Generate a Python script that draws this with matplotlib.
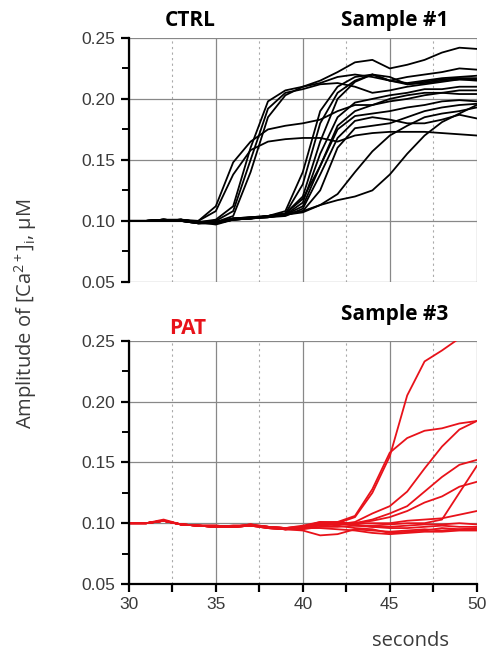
import matplotlib.pyplot as plt
import numpy as np
from matplotlib.ticker import MultipleLocator

plt.rcParams['font.family'] = ['Liberation Sans', 'DejaVu Sans']
plt.rcParams['mathtext.fontset'] = 'custom'
plt.rcParams['mathtext.rm'] = 'Open Sans'
plt.rcParams['mathtext.it'] = 'Open Sans:italic'

# time axis (seconds), one reading per second
t = np.arange(30, 51)

# CTRL, sample #1 - values in uM
ctrl = [
    [0.100, 0.100, 0.101, 0.100, 0.100, 0.112, 0.148, 0.165, 0.175, 0.178, 0.180, 0.183, 0.190, 0.195, 0.195, 0.198, 0.200, 0.203, 0.205, 0.207, 0.207],
    [0.100, 0.100, 0.100, 0.101, 0.100, 0.108, 0.138, 0.158, 0.165, 0.167, 0.168, 0.168, 0.165, 0.170, 0.172, 0.173, 0.173, 0.173, 0.172, 0.171, 0.170],
    [0.100, 0.100, 0.101, 0.100, 0.099, 0.101, 0.112, 0.160, 0.198, 0.207, 0.210, 0.215, 0.222, 0.230, 0.232, 0.225, 0.228, 0.232, 0.238, 0.242, 0.241],
    [0.100, 0.100, 0.100, 0.101, 0.099, 0.100, 0.108, 0.150, 0.192, 0.205, 0.208, 0.212, 0.213, 0.210, 0.205, 0.207, 0.210, 0.212, 0.214, 0.216, 0.215],
    [0.100, 0.100, 0.101, 0.100, 0.098, 0.099, 0.104, 0.140, 0.185, 0.203, 0.210, 0.213, 0.218, 0.220, 0.218, 0.215, 0.218, 0.220, 0.222, 0.225, 0.224],
    [0.100, 0.100, 0.100, 0.101, 0.099, 0.099, 0.102, 0.103, 0.104, 0.108, 0.140, 0.190, 0.210, 0.218, 0.220, 0.215, 0.213, 0.215, 0.217, 0.218, 0.219],
    [0.100, 0.100, 0.101, 0.100, 0.098, 0.098, 0.101, 0.102, 0.103, 0.106, 0.130, 0.180, 0.205, 0.215, 0.220, 0.215, 0.212, 0.214, 0.216, 0.217, 0.217],
    [0.100, 0.100, 0.100, 0.101, 0.099, 0.097, 0.101, 0.102, 0.104, 0.106, 0.120, 0.165, 0.200, 0.214, 0.220, 0.218, 0.212, 0.213, 0.215, 0.216, 0.216],
    [0.100, 0.100, 0.101, 0.100, 0.099, 0.098, 0.102, 0.102, 0.103, 0.105, 0.115, 0.155, 0.185, 0.197, 0.200, 0.203, 0.205, 0.208, 0.208, 0.210, 0.210],
    [0.100, 0.100, 0.100, 0.100, 0.098, 0.099, 0.101, 0.102, 0.104, 0.105, 0.112, 0.145, 0.175, 0.186, 0.188, 0.190, 0.193, 0.195, 0.198, 0.199, 0.198],
    [0.100, 0.100, 0.101, 0.101, 0.099, 0.098, 0.102, 0.103, 0.103, 0.104, 0.110, 0.138, 0.168, 0.182, 0.185, 0.183, 0.180, 0.180, 0.183, 0.187, 0.184],
    [0.100, 0.100, 0.100, 0.100, 0.099, 0.099, 0.101, 0.102, 0.104, 0.106, 0.108, 0.125, 0.160, 0.176, 0.178, 0.180, 0.185, 0.190, 0.193, 0.195, 0.196],
    [0.100, 0.100, 0.101, 0.100, 0.098, 0.098, 0.101, 0.102, 0.103, 0.105, 0.108, 0.113, 0.122, 0.140, 0.157, 0.170, 0.178, 0.185, 0.188, 0.190, 0.193],
    [0.100, 0.100, 0.100, 0.101, 0.099, 0.099, 0.102, 0.102, 0.104, 0.105, 0.107, 0.113, 0.117, 0.120, 0.125, 0.138, 0.155, 0.170, 0.181, 0.188, 0.195],
    [0.100, 0.100, 0.101, 0.100, 0.099, 0.098, 0.101, 0.103, 0.104, 0.106, 0.118, 0.145, 0.178, 0.190, 0.195, 0.200, 0.203, 0.205, 0.205, 0.204, 0.204],
]

# PAT, sample #3
pat = [
    [0.100, 0.100, 0.102, 0.099, 0.098, 0.097, 0.097, 0.098, 0.097, 0.096, 0.096, 0.099, 0.100, 0.105, 0.125, 0.155, 0.205, 0.233, 0.242, 0.252, 0.260],
    [0.100, 0.100, 0.102, 0.099, 0.098, 0.098, 0.097, 0.098, 0.097, 0.095, 0.097, 0.100, 0.101, 0.106, 0.128, 0.158, 0.170, 0.176, 0.178, 0.182, 0.184],
    [0.100, 0.100, 0.103, 0.099, 0.098, 0.097, 0.097, 0.099, 0.096, 0.095, 0.096, 0.098, 0.099, 0.101, 0.108, 0.114, 0.126, 0.145, 0.163, 0.177, 0.184],
    [0.100, 0.100, 0.102, 0.099, 0.098, 0.097, 0.098, 0.098, 0.097, 0.096, 0.097, 0.100, 0.100, 0.100, 0.103, 0.108, 0.114, 0.126, 0.138, 0.148, 0.152],
    [0.100, 0.100, 0.102, 0.099, 0.098, 0.098, 0.097, 0.099, 0.097, 0.095, 0.096, 0.099, 0.099, 0.100, 0.102, 0.105, 0.110, 0.117, 0.122, 0.130, 0.134],
    [0.100, 0.100, 0.102, 0.099, 0.098, 0.097, 0.097, 0.098, 0.096, 0.095, 0.095, 0.097, 0.097, 0.098, 0.098, 0.099, 0.100, 0.100, 0.103, 0.125, 0.147],
    [0.100, 0.100, 0.102, 0.099, 0.098, 0.097, 0.097, 0.098, 0.097, 0.096, 0.097, 0.100, 0.100, 0.100, 0.100, 0.100, 0.102, 0.103, 0.104, 0.107, 0.110],
    [0.100, 0.100, 0.102, 0.099, 0.098, 0.097, 0.097, 0.098, 0.096, 0.095, 0.094, 0.090, 0.091, 0.095, 0.094, 0.093, 0.094, 0.095, 0.094, 0.095, 0.095],
    [0.100, 0.100, 0.102, 0.099, 0.098, 0.098, 0.097, 0.099, 0.097, 0.095, 0.096, 0.100, 0.098, 0.096, 0.095, 0.092, 0.093, 0.094, 0.096, 0.095, 0.096],
    [0.100, 0.100, 0.102, 0.099, 0.098, 0.097, 0.097, 0.098, 0.097, 0.096, 0.097, 0.101, 0.101, 0.099, 0.097, 0.097, 0.098, 0.099, 0.099, 0.100, 0.099],
    [0.100, 0.100, 0.102, 0.099, 0.098, 0.097, 0.097, 0.098, 0.096, 0.095, 0.096, 0.096, 0.095, 0.094, 0.092, 0.091, 0.092, 0.093, 0.093, 0.094, 0.094],
    [0.100, 0.100, 0.102, 0.099, 0.098, 0.097, 0.098, 0.098, 0.097, 0.096, 0.098, 0.101, 0.100, 0.098, 0.097, 0.096, 0.096, 0.097, 0.098, 0.097, 0.097],
]

red = '#e8121a'
grey = '#3a3a3a'

fig = plt.figure(figsize=(4.86, 6.54), dpi=100)
ax1 = fig.add_axes([0.265, 0.569, 0.716, 0.373])
ax2 = fig.add_axes([0.265, 0.107, 0.716, 0.372])


def style(ax, show_x):
    ax.set_xlim(30, 50)
    ax.set_ylim(0.05, 0.25)
    ax.xaxis.set_major_locator(MultipleLocator(5))
    ax.xaxis.set_minor_locator(MultipleLocator(2.5))
    ax.yaxis.set_major_locator(MultipleLocator(0.05))
    ax.yaxis.set_minor_locator(MultipleLocator(0.025))
    ax.yaxis.set_major_formatter(plt.FormatStrFormatter('%.2f'))
    ax.grid(which='major', color='#888888', lw=0.9)
    ax.grid(which='minor', axis='x', color='#aaaaaa', lw=0.8, ls=(0, (2, 3)))
    # no gridlines on the frame edges
    for gl in [ax.get_xgridlines()[0], ax.get_xgridlines()[-1],
               ax.get_ygridlines()[0], ax.get_ygridlines()[-1]]:
        gl.set_visible(False)
    ax.set_axisbelow(True)
    for s in ['top', 'right']:
        ax.spines[s].set_visible(False)
    ax.spines['left'].set_linewidth(1.6)
    ax.spines['bottom'].set_linewidth(1.6)
    ax.tick_params(axis='y', which='major', length=6, width=1.6, labelsize=12.5, labelcolor=grey)
    ax.tick_params(axis='y', which='minor', length=5, width=1.4)
    ax.tick_params(axis='x', which='both', length=6, width=1.6, labelsize=12.5, labelcolor=grey)
    if not show_x:
        ax.spines['bottom'].set_visible(False)
        ax.tick_params(axis='x', which='both', bottom=False, labelbottom=False)


style(ax1, False)
style(ax2, True)

for y in ctrl:
    ax1.plot(t, y, color='black', lw=1.3)
for y in pat:
    ax2.plot(t, y, color=red, lw=1.3)

title_font = dict(fontsize=15, fontweight='bold', family=['Open Sans', 'DejaVu Sans'],
                  ha='center', va='center')
fig.text(0.391, 0.968, 'CTRL', **title_font)
fig.text(0.812, 0.968, 'Sample #1', **title_font)
fig.text(0.812, 0.519, 'Sample #3', **title_font)
fig.text(0.387, 0.498, 'PAT', color=red, **title_font)
fig.text(0.052, 0.52, r'Amplitude of [Ca$^{2+}$]$_\mathrm{i}$, $\mathrm{\mu}$M', fontsize=14.5,
         family=['Open Sans', 'DejaVu Sans'], color=grey, rotation=90, ha='center', va='center')
fig.text(0.844, 0.02, 'seconds', fontsize=14.5, family=['Open Sans', 'DejaVu Sans'],
         color=grey, ha='center', va='center')

fig.savefig('out.png', dpi=100)
